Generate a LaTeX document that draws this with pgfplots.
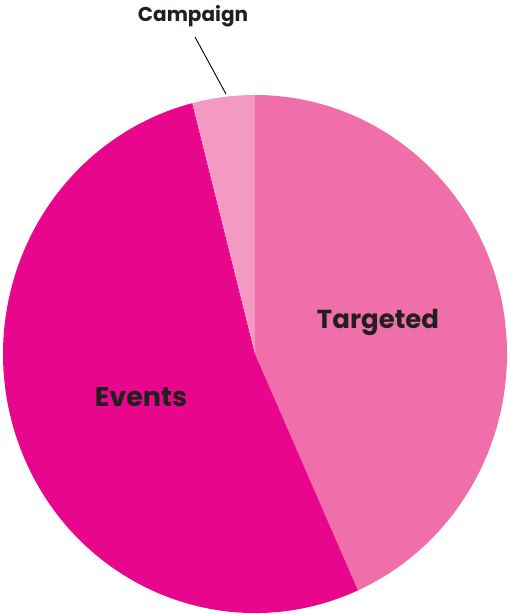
\documentclass[border=0pt]{standalone}
\usepackage{pgfplots}
\usepackage{pgfplotstable}
\pgfplotsset{compat=1.18}
\usepackage{fontspec}
\newfontfamily\labfont{Poppins}
\definecolor{cTarg}{HTML}{F06EA9}
\definecolor{cEvt}{HTML}{E8078C}
\definecolor{cCamp}{HTML}{F49AC2}
\definecolor{txt}{HTML}{231F20}
\pgfplotstableread{
label value
Targeted 43.3
Events 52.7
Campaign 4.0
}\piedata
\begin{document}
\begin{tikzpicture}
\pgfplotstablegetelem{0}{value}\of\piedata \let\vA\pgfplotsretval
\pgfplotstablegetelem{1}{value}\of\piedata \let\vB\pgfplotsretval
\pgfplotstablegetelem{2}{value}\of\piedata \let\vC\pgfplotsretval
\pgfmathsetmacro{\tot}{\vA+\vB+\vC}
\pgfmathsetmacro{\aA}{90}
\pgfmathsetmacro{\aB}{90-3.6*(\vA/\tot)*100}
\pgfmathsetmacro{\aC}{\aB-3.6*(\vB/\tot)*100}
\pgfmathsetmacro{\aD}{\aC-3.6*(\vC/\tot)*100}
\begin{axis}[width=508pt,height=614pt,scale only axis,
  xmin=0,xmax=508,ymin=0,ymax=614,hide axis,clip=true]
\path (rel axis cs:0,0) rectangle (rel axis cs:1,1);
\fill[cTarg] (axis cs:255,260) -- ++(\aA:252pt and 259pt) arc[start angle=\aA,end angle=\aB,x radius=252pt,y radius=259pt] -- cycle;
\fill[cEvt] (axis cs:255,260) -- ++(\aB:252pt and 259pt) arc[start angle=\aB,end angle=\aC,x radius=252pt,y radius=259pt] -- cycle;
\fill[cCamp] (axis cs:255,260) -- ++(\aC:252pt and 259pt) arc[start angle=\aC,end angle=\aD,x radius=252pt,y radius=259pt] -- cycle;
\draw[black,line width=0.9pt] (axis cs:195,577) -- (axis cs:226,520);
\node[font=\labfont\bfseries\fontsize{26}{28}\selectfont,text=txt] at (axis cs:378,292) {Targeted};
\node[font=\labfont\bfseries\fontsize{27}{29}\selectfont,text=txt] at (axis cs:141,217) {Events};
\node[font=\labfont\bfseries\fontsize{20}{22}\selectfont,text=txt] at (axis cs:193,598) {Campaign};
\end{axis}
\end{tikzpicture}
\end{document}
